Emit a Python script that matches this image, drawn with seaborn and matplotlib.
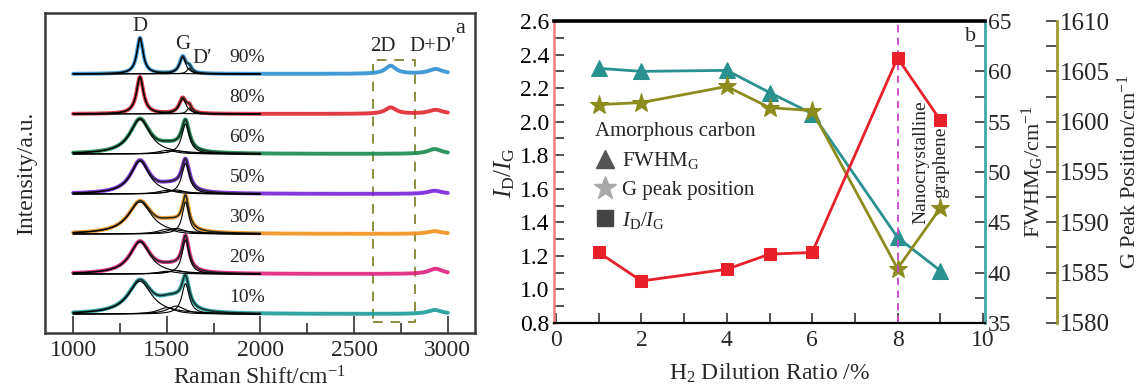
import numpy as np
import pandas as pd
import matplotlib
matplotlib.use("Agg")
import matplotlib.pyplot as plt
import seaborn as sns
from matplotlib.lines import Line2D
from matplotlib.patches import Rectangle
from matplotlib.ticker import MultipleLocator

# ---------------- Panel a: fitted Raman peak parameters ----------------
samples = ["90%", "80%", "60%", "50%", "30%", "20%", "10%"]
spec_colors = ["#2f8fd0", "#e02630", "#178a50", "#7a22d8", "#f0901c", "#e0207e", "#1a9a9a"]
d_pos = [1357, 1357, 1357, 1357, 1357, 1357, 1357]
d_fwhm = [40, 45, 130, 120, 150, 130, 150]
d_amp = [0.90, 0.92, 0.86, 0.82, 0.80, 0.80, 0.82]
g_pos = [1585, 1585, 1600, 1600, 1600, 1600, 1600]
g_fwhm = [40, 45, 50, 50, 42, 45, 48]
g_amp = [0.42, 0.38, 0.74, 0.76, 0.80, 0.85, 0.76]
dp_pos = [1620, 1620, 1620, 1620, 1620, 1620, 1620]
dp_amp = [0.14, 0.15, 0.0, 0.0, 0.0, 0.0, 0.0]
a1_pos = [1500, 1500, 1500, 1500, 1500, 1500, 1500]
a1_amp = [0.0, 0.0, 0.09, 0.09, 0.12, 0.07, 0.16]
a2_pos = [1550, 1550, 1550, 1550, 1550, 1550, 1550]
a2_amp = [0.0, 0.0, 0.08, 0.10, 0.14, 0.09, 0.20]
p2d_pos = [2695, 2695, 2695, 2695, 2695, 2695, 2695]
p2d_amp = [0.20, 0.16, 0.0, 0.0, 0.0, 0.0, 0.0]
ddp_pos = [2935, 2935, 2930, 2930, 2930, 2935, 2930]
ddp_amp = [0.12, 0.10, 0.12, 0.08, 0.07, 0.13, 0.10]

# ---------------- Panel b data ----------------
h2_ratio = [1, 2, 4, 5, 6, 8, 9]
id_ig = [1.22, 1.05, 1.12, 1.21, 1.22, 2.38, 2.01]
fwhm_g = [60.3, 60.0, 60.1, 57.9, 55.8, 43.5, 40.2]
g_peak = [1601.7, 1601.9, 1603.5, 1601.4, 1601.1, 1585.4, 1591.4]

# ---------------- style ----------------
sns.set_theme(style="ticks")
plt.rcParams["font.family"] = ["Liberation Serif", "DejaVu Serif"]
plt.rcParams["mathtext.fontset"] = "custom"
plt.rcParams["mathtext.rm"] = "Liberation Serif"
plt.rcParams["mathtext.it"] = "Liberation Serif:italic"
plt.rcParams["axes.unicode_minus"] = False

fig = plt.figure(figsize=(11.39, 3.90), dpi=100)
axa = fig.add_axes([0.0395, 0.146, 0.3775, 0.821])
axb = fig.add_axes([0.4864, 0.172, 0.3784, 0.774])


def lor(x, c, w, h):
    return h / (1.0 + ((x - c) / (w / 2.0)) ** 2)


x_full = np.linspace(1000, 3000, 2001)
x_fit = x_full[x_full <= 2000]
n = len(samples)
for i in range(n):
    base = 0.475 + (n - 1 - i) * 1.0
    comps_fit = [
        (d_pos[i], d_fwhm[i], d_amp[i]),
        (g_pos[i], g_fwhm[i], g_amp[i]),
        (dp_pos[i], 30, dp_amp[i]),
        (a1_pos[i], 110, a1_amp[i]),
        (a2_pos[i], 110, a2_amp[i]),
    ]
    comps_hi = [(p2d_pos[i], 70, p2d_amp[i]), (ddp_pos[i], 90, ddp_amp[i])]
    total = np.zeros_like(x_full)
    for c, w, h in comps_fit + comps_hi:
        total += lor(x_full, c, w, h)
    sns.lineplot(x=x_full, y=base + total, ax=axa, color=spec_colors[i], lw=2.8,
                 alpha=0.9, errorbar=None, zorder=2)
    tot_fit = np.zeros_like(x_fit)
    for c, w, h in comps_fit:
        tot_fit += lor(x_fit, c, w, h)
    sns.lineplot(x=x_fit, y=base + tot_fit, ax=axa, color="#1a2a22", lw=1.1,
                 errorbar=None, zorder=3)
    for c, w, h in comps_fit:
        if h > 0:
            sns.lineplot(x=x_fit, y=base + lor(x_fit, c, w, h), ax=axa, color="black",
                         lw=0.8, errorbar=None, zorder=3)
    axa.text(1930, base + 0.42, samples[i], fontsize=14, ha="center", va="center")

axa.add_patch(Rectangle((2600, 0.275), 224, 6.555, fill=False, ec="#8c8c40",
                        ls=(0, (5, 4)), lw=1.4, zorder=1))
axa.text(1357, 7.65, "D", fontsize=15, ha="center", va="center")
axa.text(1585, 7.2, "G", fontsize=15, ha="center", va="center")
axa.text(1690, 6.87, "D\u2032", fontsize=15, ha="center", va="center")
axa.text(2653, 7.15, "2D", fontsize=15, ha="center", va="center")
axa.text(2920, 7.15, "D+D\u2032", fontsize=15, ha="center", va="center")
axa.text(3064, 7.6, "a", fontsize=16, ha="center", va="center")

axa.set_xlim(850, 3145)
axa.set_ylim(0, 8)
axa.set_yticks([])
axa.xaxis.set_major_locator(MultipleLocator(500))
axa.xaxis.set_minor_locator(MultipleLocator(250))
axa.tick_params(axis="x", which="major", direction="in", length=12, width=1.2,
                color="#333333", labelsize=17, pad=5)
axa.tick_params(axis="x", which="minor", direction="in", length=7, width=1.2,
                color="#333333")
for s in axa.spines.values():
    s.set_color("#3a3a3a")
    s.set_linewidth(1.8)
axa.set_xlabel("Raman Shift/cm$^{-1}$", fontsize=17, labelpad=4)
axa.set_ylabel("Intensity/a.u.", fontsize=17, labelpad=6)

# ---------------- Panel b ----------------
red = "#e8202a"
teal = "#2a9090"
olive = "#8c8c1e"

ax3 = axb.twinx()
ax4 = axb.twinx()

axb.axvline(8, color="#cc44cc", ls=(0, (4, 3)), lw=1.3, zorder=1)

sns.lineplot(x=h2_ratio, y=fwhm_g, ax=ax3, color=teal, lw=2.0, marker="^",
             markersize=11, markeredgecolor=teal, errorbar=None)
sns.lineplot(x=h2_ratio, y=g_peak, ax=ax4, color=olive, lw=2.0, marker="*",
             markersize=14, markeredgecolor=olive, errorbar=None)
sns.lineplot(x=h2_ratio, y=id_ig, ax=axb, color=red, lw=2.0, marker="s",
             markersize=9, markeredgecolor=red, errorbar=None)
axb.set_zorder(ax4.get_zorder() + 1)
axb.patch.set_visible(False)

axb.set_xlim(-0.05, 10.05)
axb.set_ylim(0.8, 2.6)
ax3.set_ylim(35, 65)
ax4.set_ylim(1580, 1610)

axb.xaxis.set_major_locator(MultipleLocator(2))
axb.xaxis.set_minor_locator(MultipleLocator(1))
axb.yaxis.set_major_locator(MultipleLocator(0.2))
axb.yaxis.set_minor_locator(MultipleLocator(0.1))
axb.yaxis.set_major_formatter(matplotlib.ticker.FormatStrFormatter("%.1f"))
ax3.yaxis.set_major_locator(MultipleLocator(5))
ax3.yaxis.set_minor_locator(MultipleLocator(2.5))
ax4.yaxis.set_major_locator(MultipleLocator(5))
ax4.yaxis.set_minor_locator(MultipleLocator(2.5))

axb.tick_params(axis="both", which="major", direction="in", length=7, width=1.2,
                color="#333333", labelsize=17)
axb.tick_params(axis="both", which="minor", direction="in", length=7, width=1.2,
                color="#333333")
axb.tick_params(axis="y", which="both", left=True, right=False, colors="#333333",
                labelcolor="black")
axb.tick_params(axis="x", pad=5)
ax3.tick_params(axis="y", which="major", direction="in", length=7, width=1.2,
                color="#333333", labelsize=17, pad=2)
ax3.tick_params(axis="y", which="minor", direction="in", length=7, width=1.2,
                color="#333333")
ax4.tick_params(axis="y", which="major", direction="in", length=8, width=1.2,
                color="#333333", labelsize=18, pad=2)
ax4.tick_params(axis="y", which="minor", direction="in", length=8, width=1.2,
                color="#333333")

axb.spines["top"].set_color("black")
axb.spines["top"].set_linewidth(2.6)
axb.spines["bottom"].set_color("black")
axb.spines["bottom"].set_linewidth(1.6)
axb.spines["left"].set_color("#f08080")
axb.spines["left"].set_linewidth(1.8)
axb.spines["right"].set_visible(False)
for s in ["top", "bottom", "left"]:
    ax3.spines[s].set_visible(False)
    ax4.spines[s].set_visible(False)
ax3.spines["right"].set_color("#40a8a8")
ax3.spines["right"].set_linewidth(2.0)
ax4.spines["right"].set_position(("axes", 1.167))
ax4.spines["right"].set_color("#9a9a30")
ax4.spines["right"].set_linewidth(2.0)

axb.set_xlabel("H$_2$ Dilution Ratio /%", fontsize=17, labelpad=8)
axb.set_ylabel("$I_{\\mathrm{D}}/I_{\\mathrm{G}}$", fontsize=18, labelpad=2)
ax3.set_ylabel("FWHM$_{\\mathrm{G}}$/cm$^{-1}$", fontsize=16, labelpad=6)
ax4.set_ylabel("G Peak Position/cm$^{-1}$", fontsize=16)
ax4.yaxis.label.set_verticalalignment("center")
ax4.yaxis.set_label_coords(1.334, 0.5)

axb.text(9.7, 2.51, "b", fontsize=16, ha="center", va="center")
axb.text(8.78, 1.76, "Nanocrystalline\ngraphene", fontsize=14, rotation=90,
         ha="center", va="center", multialignment="center", linespacing=1.25)

handles = [
    Line2D([], [], ls="none", marker="^", color="#555555", markersize=13),
    Line2D([], [], ls="none", marker="*", color="#a8a8a8", markersize=17),
    Line2D([], [], ls="none", marker="s", color="#444444", markersize=11),
]
labels = ["FWHM$_{\\mathrm{G}}$", "G peak position", "$I_{\\mathrm{D}}/I_{\\mathrm{G}}$"]
leg = axb.legend(handles, labels, title="Amorphous carbon", loc="upper left",
                 bbox_to_anchor=(0.07, 0.70), frameon=False, fontsize=15,
                 title_fontsize=15, handlelength=1.0, handletextpad=0.3,
                 labelspacing=0.45, borderpad=0, alignment="left")

fig.savefig("out.png", dpi=100)
